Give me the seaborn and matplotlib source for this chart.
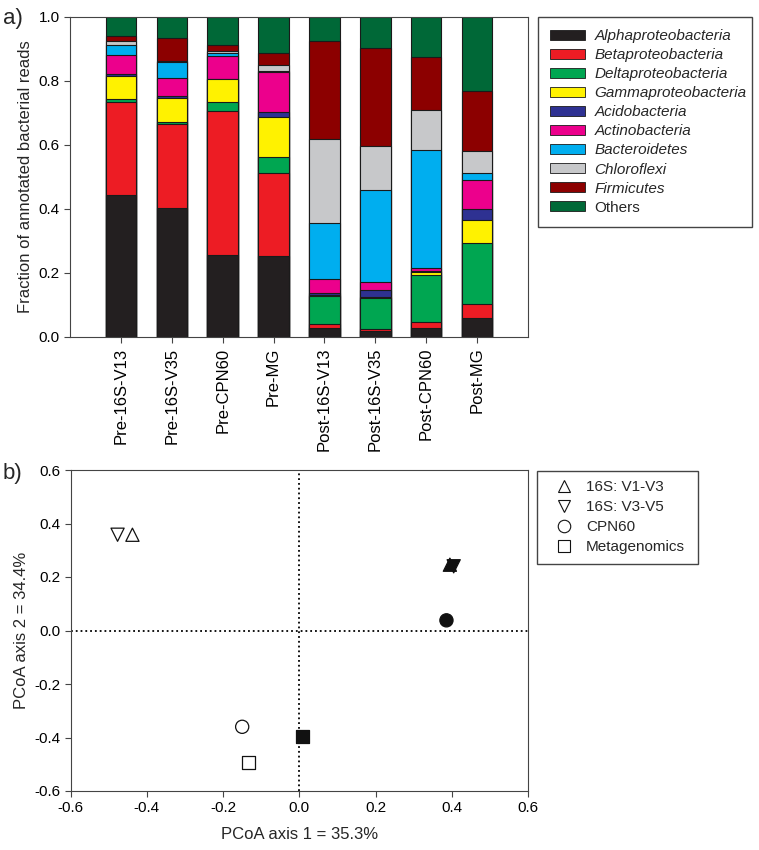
import numpy as np
import pandas as pd
import matplotlib
matplotlib.use("Agg")
import matplotlib.pyplot as plt
from matplotlib.patches import Patch
from matplotlib.lines import Line2D
import seaborn as sns

# --- panel a: fraction of annotated bacterial reads ---
samples = ["Pre-16S-V13", "Pre-16S-V35", "Pre-CPN60", "Pre-MG",
           "Post-16S-V13", "Post-16S-V35", "Post-CPN60", "Post-MG"]

alpha_frac = [0.445, 0.402, 0.256, 0.254, 0.027, 0.019, 0.029, 0.058]
beta_frac = [0.290, 0.265, 0.451, 0.260, 0.014, 0.005, 0.017, 0.044]
delta_frac = [0.008, 0.006, 0.027, 0.047, 0.088, 0.099, 0.147, 0.193]
gamma_frac = [0.074, 0.075, 0.071, 0.128, 0.001, 0.001, 0.010, 0.072]
acido_frac = [0.006, 0.005, 0.002, 0.013, 0.006, 0.023, 0.004, 0.032]
actino_frac = [0.059, 0.057, 0.071, 0.125, 0.046, 0.025, 0.008, 0.091]
bactero_frac = [0.029, 0.048, 0.008, 0.004, 0.173, 0.286, 0.369, 0.024]
chloro_frac = [0.013, 0.005, 0.008, 0.019, 0.263, 0.140, 0.124, 0.068]
firmi_frac = [0.016, 0.072, 0.017, 0.036, 0.306, 0.306, 0.168, 0.186]
others_frac = [0.060, 0.065, 0.089, 0.114, 0.076, 0.096, 0.124, 0.232]

taxa = ["Alphaproteobacteria", "Betaproteobacteria", "Deltaproteobacteria",
        "Gammaproteobacteria", "Acidobacteria", "Actinobacteria",
        "Bacteroidetes", "Chloroflexi", "Firmicutes", "Others"]
taxa_colors = ["#231f20", "#ed1c24", "#00a651", "#fff200", "#2e3192",
               "#ec008c", "#00aeef", "#c7c8ca", "#8c0000", "#006837"]

# --- panel b: PCoA ---
pcoa_x = [-0.438, -0.477, -0.150, -0.134, 0.395, 0.405, 0.386, 0.008]
pcoa_y = [0.358, 0.358, -0.360, -0.493, 0.246, 0.240, 0.038, -0.396]
method = ["16S: V1-V3", "16S: V3-V5", "CPN60", "Metagenomics",
          "16S: V1-V3", "16S: V3-V5", "CPN60", "Metagenomics"]
stage = ["Pre", "Pre", "Pre", "Pre", "Post", "Post", "Post", "Post"]

method_markers = {"16S: V1-V3": "^", "16S: V3-V5": "v",
                  "CPN60": "o", "Metagenomics": "s"}

sns.set_style("ticks")
plt.rcParams["font.family"] = ["Liberation Sans", "DejaVu Sans"]
plt.rcParams["axes.unicode_minus"] = False
plt.rcParams["axes.edgecolor"] = "#444444"
plt.rcParams["xtick.color"] = "#444444"
plt.rcParams["ytick.color"] = "#444444"
plt.rcParams["xtick.labelcolor"] = "black"
plt.rcParams["ytick.labelcolor"] = "black"

W, H = 759, 850
fig = plt.figure(figsize=(W / 100, H / 100), dpi=100)

# bar panel
ax1 = fig.add_axes([70 / W, 1 - 337 / H, 458 / W, 320 / H])
fracs = np.array([alpha_frac, beta_frac, delta_frac, gamma_frac, acido_frac,
                  actino_frac, bactero_frac, chloro_frac, firmi_frac, others_frac])
cum = np.cumsum(fracs, axis=0)
cum = cum / cum[-1]
# draw cumulative heights from the top layer down so each layer overlays the next
for i in range(len(taxa) - 1, -1, -1):
    df = pd.DataFrame({"sample": samples, "value": cum[i]})
    sns.barplot(data=df, x="sample", y="value", order=samples, color=taxa_colors[i],
                saturation=1, width=0.6, edgecolor="#1a1a1a", linewidth=0.8, ax=ax1)

ax1.set_xlim(-1, 8)
ax1.set_ylim(0, 1)
ax1.set_yticks(np.arange(0, 1.01, 0.2))
ax1.set_yticklabels([f"{v:.1f}" for v in np.arange(0, 1.01, 0.2)], fontsize=11)
ax1.set_xticks(range(len(samples)))
ax1.set_xticklabels(samples, rotation=90, fontsize=12)
ax1.set_xlabel("")
ax1.set_ylabel("Fraction of annotated bacterial reads", fontsize=12)
ax1.tick_params(length=4, width=0.8)

handles = [Patch(facecolor=c, edgecolor="#1a1a1a", linewidth=0.6) for c in taxa_colors]
leg1 = fig.legend(handles, taxa, loc="upper left",
                  bbox_to_anchor=(538 / W, 1 - 17 / H, 214 / W, 0), mode="expand",
                  borderaxespad=0, fontsize=11, frameon=True, fancybox=False,
                  edgecolor="#444444", framealpha=1, handlelength=2.3,
                  handleheight=0.6, handletextpad=0.6, labelspacing=0.33,
                  borderpad=0.8)
for txt, name in zip(leg1.get_texts(), taxa):
    if name != "Others":
        txt.set_fontstyle("italic")

# PCoA panel
ax2 = fig.add_axes([70.7 / W, 1 - 791 / H, 457.3 / W, 321 / H])
ax2.axhline(0, color="black", linestyle=":", linewidth=1.3, zorder=1)
ax2.axvline(0, color="black", linestyle=":", linewidth=1.3, zorder=1)
pc = pd.DataFrame({"x": pcoa_x, "y": pcoa_y, "method": method, "stage": stage})
sns.scatterplot(data=pc, x="x", y="y", hue="stage", style="method",
                palette={"Pre": "white", "Post": "#111111"},
                markers=method_markers, s=90, edgecolor="#111111",
                linewidth=0.9, legend=False, zorder=3, ax=ax2)
ax2.set_xlim(-0.6, 0.6)
ax2.set_ylim(-0.6, 0.6)
ticks = np.round(np.arange(-0.6, 0.61, 0.2), 1)
ax2.set_xticks(ticks)
ax2.set_yticks(ticks)
ax2.set_xticklabels([f"{v:.1f}" for v in ticks], fontsize=11)
ax2.set_yticklabels([f"{v:.1f}" for v in ticks], fontsize=11)
ax2.set_xlabel("PCoA axis 1 = 35.3%", fontsize=12, labelpad=8)
ax2.set_ylabel("PCoA axis 2 = 34.4%", fontsize=12)
ax2.tick_params(length=4, width=0.8)

mhandles = [Line2D([], [], linestyle="none", marker=method_markers[m], markersize=9,
                   markerfacecolor="white", markeredgecolor="#111111",
                   markeredgewidth=0.8) for m in method_markers]
fig.legend(mhandles, list(method_markers), loc="upper left",
           bbox_to_anchor=(537 / W, 1 - 471 / H, 161 / W, 0), mode="expand",
           borderaxespad=0, fontsize=11, frameon=True, fancybox=False,
           edgecolor="#444444", framealpha=1, handlelength=2.3,
           handletextpad=0.3, labelspacing=0.4, borderpad=0.6)

fig.text(3 / W, 1 - 24 / H, "a)", fontsize=16)
fig.text(3 / W, 1 - 479 / H, "b)", fontsize=16)

fig.savefig("out.png", dpi=100)
